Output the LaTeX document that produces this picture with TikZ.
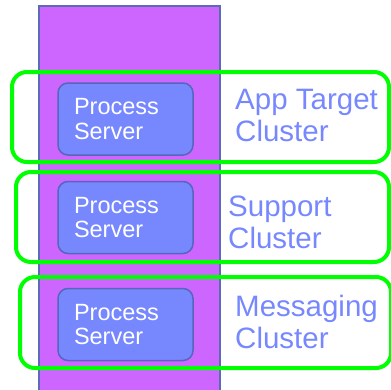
\documentclass[tikz,border=0pt]{standalone}
\usepackage{fontspec}
\setmainfont{Liberation Sans}
\usepackage{xcolor}

\definecolor{hostfill}{HTML}{CC66FF}
\definecolor{hostline}{HTML}{5B6BB5}
\definecolor{serverfill}{HTML}{7788FF}
\definecolor{serverline}{HTML}{5566BB}
\definecolor{clustergreen}{HTML}{00FF00}

\tikzset{
  server/.style={draw=serverline, fill=serverfill, line width=1.5pt, rounded corners=10pt,
    minimum width=135pt, minimum height=72pt, inner xsep=16pt, text width=103pt, align=left,
    text=white, font=\fontsize{23.5}{24.5}\selectfont},
  cluster/.style={draw=clustergreen, line width=4pt, rounded corners=15pt},
  clusterlabel/.style={anchor=base west, inner sep=0pt, text=serverfill, align=left,
    font=\fontsize{29.5}{32}\selectfont}
}

\begin{document}
\begin{tikzpicture}[x=1pt, y=-1pt]
\useasboundingbox (0,0) rectangle (391,389);

% the host column
\draw[hostline, fill=hostfill, line width=1.5pt] (39,6) rectangle (220,400);

% process servers
\node[server] (server1) at (125.5,119) {Process\\Server};
\node[server] (server2) at (125.5,217.5) {Process\\Server};
\node[server] (server3) at (125.5,324.5) {Process\\Server};

% cluster labels (base = last line)
\node[clusterlabel] (label1) at (235,141) {App Target\\Cluster};
\node[clusterlabel] (label2) at (228,248) {Support\\Cluster};
\node[clusterlabel] (label3) at (235,348) {Messaging\\Cluster};

% cluster frames
\draw[cluster] (12,72) rectangle (389,162);
\draw[cluster] (16,172) rectangle (389,262);
\draw[cluster] (20,277) rectangle (391,368);
\end{tikzpicture}
\end{document}
